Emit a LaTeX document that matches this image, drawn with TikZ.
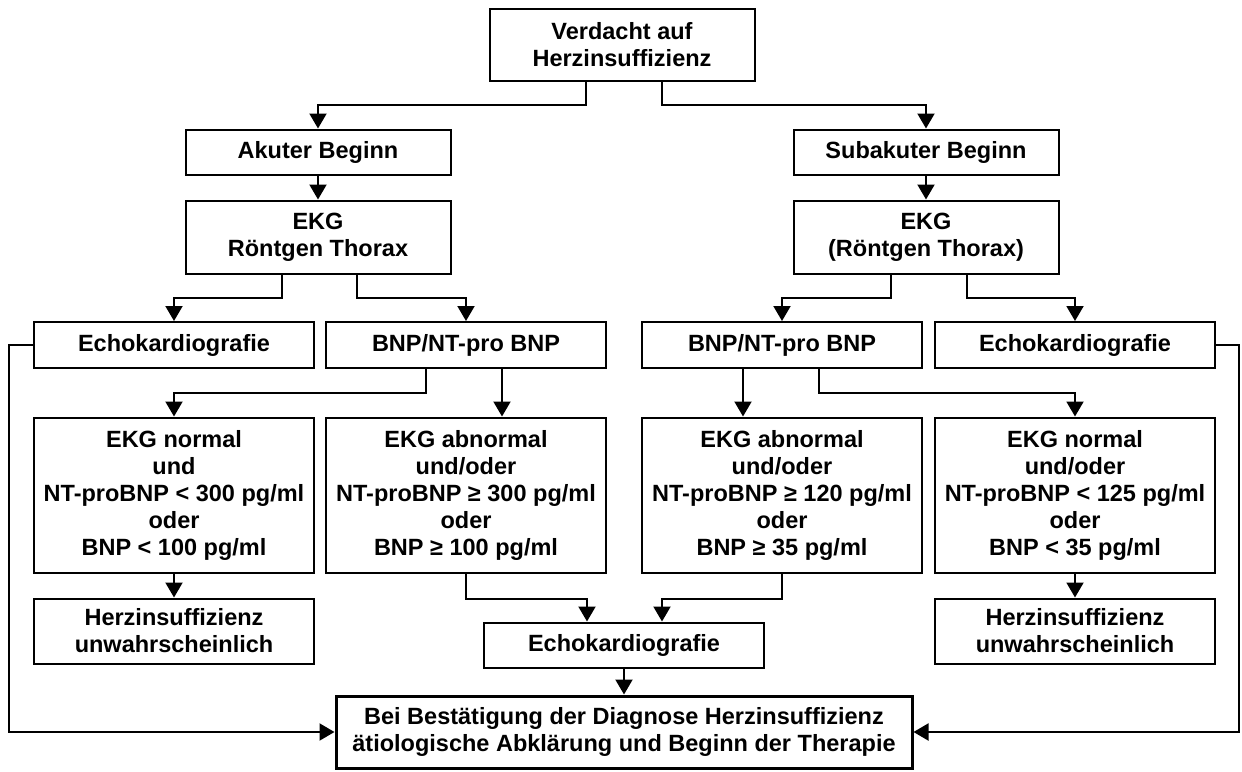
\documentclass[tikz,border=0pt]{standalone}
\usepackage{fontspec}
\setmainfont{Liberation Sans}
\usetikzlibrary{arrows.meta, positioning}

\tikzset{
  box/.style={draw, line width=2pt, align=center, inner xsep=2pt, inner ysep=0pt,
              minimum width=280pt, font=\fontsize{23.5}{27}\selectfont\bfseries},
  arr/.style={-{Triangle[width=17pt,length=15pt]}, line width=2pt},
}

\begin{document}
\begin{tikzpicture}[x=1pt, y=1pt]
\useasboundingbox (0,0) rectangle (1242,-771);

% --- Top ---
\node[box, minimum width=265pt, minimum height=72pt] (verdacht) at (622,-45)
      {Verdacht auf\\Herzinsuffizienz};

% --- Onset ---
\node[box, minimum width=265pt, minimum height=45pt] (akut) at (318,-152) {Akuter Beginn};
\node[box, minimum width=265pt, minimum height=45pt] (subakut) at (926,-152) {Subakuter Beginn};

\node[box, minimum width=265pt, minimum height=73pt] (ekgA) at (318,-237) {EKG\\Röntgen Thorax};
\node[box, minimum width=265pt, minimum height=73pt] (ekgS) at (926,-237) {EKG\\(Röntgen Thorax)};

% --- Second row ---
\node[box, minimum height=46pt] (echoA) at (174,-345) {Echokardiografie};
\node[box, minimum height=46pt] (bnpA) at (466,-345) {BNP/NT-pro BNP};
\node[box, minimum height=46pt] (bnpS) at (782,-345) {BNP/NT-pro BNP};
\node[box, minimum height=46pt] (echoS) at (1075,-345) {Echokardiografie};

% --- Lab results ---
\node[box, minimum height=155pt] (normA) at (174,-495)
      {EKG normal\\und\\NT-proBNP < 300 pg/ml\\oder\\BNP < 100 pg/ml};
\node[box, minimum height=155pt] (abnA) at (466,-495)
      {EKG abnormal\\und/oder\\NT-proBNP ≥ 300 pg/ml\\oder\\BNP ≥ 100 pg/ml};
\node[box, minimum height=155pt] (abnS) at (782,-495)
      {EKG abnormal\\und/oder\\NT-proBNP ≥ 120 pg/ml\\oder\\BNP ≥ 35 pg/ml};
\node[box, minimum height=155pt] (normS) at (1075,-495)
      {EKG normal\\und/oder\\NT-proBNP < 125 pg/ml\\oder\\BNP < 35 pg/ml};

\node[box, minimum height=65pt] (unwA) at (174,-631) {Herzinsuffizienz\\unwahrscheinlich};
\node[box, minimum height=65pt] (unwS) at (1075,-631) {Herzinsuffizienz\\unwahrscheinlich};

\node[box, minimum height=45pt] (echoM) at (624,-645) {Echokardiografie};

% --- Bottom ---
\node[box, line width=3pt, minimum width=576pt, minimum height=72pt] (final) at (624,-732)
      {Bei Bestätigung der Diagnose Herzinsuffizienz\\ätiologische Abklärung und Beginn der Therapie};

% --- Connectors ---
\draw[arr] ([xshift=-36pt]verdacht.south) -- ++(0,-23) -| (akut.north);
\draw[arr] ([xshift=40pt]verdacht.south) -- ++(0,-23) -| (subakut.north);
\draw[arr] (akut) -- (ekgA);
\draw[arr] (subakut) -- (ekgS);

\draw[arr] ([xshift=-36pt]ekgA.south) -- ++(0,-23) -| (echoA.north);
\draw[arr] ([xshift=39pt]ekgA.south) -- ++(0,-23) -| (bnpA.north);
\draw[arr] ([xshift=-35pt]ekgS.south) -- ++(0,-23) -| (bnpS.north);
\draw[arr] ([xshift=41pt]ekgS.south) -- ++(0,-23) -| (echoS.north);

\draw[arr] ([xshift=-40pt]bnpA.south) -- ++(0,-24) -| (normA.north);
\draw[arr] ([xshift=36pt]bnpA.south) -- ([xshift=36pt]abnA.north);
\draw[arr] ([xshift=-39pt]bnpS.south) -- ([xshift=-39pt]abnS.north);
\draw[arr] ([xshift=37pt]bnpS.south) -- ++(0,-24) -| (normS.north);

\draw[arr] (normA) -- (unwA);
\draw[arr] (normS) -- (unwS);
\draw[arr] (abnA.south) -- ++(0,-25) -| ([xshift=-37pt]echoM.north);
\draw[arr] (abnS.south) -- ++(0,-25) -| ([xshift=38pt]echoM.north);
\draw[arr] (echoM) -- (final);

\draw[arr] (echoA.west) -- ++(-24,0) |- (final.west);
\draw[arr] (echoS.east) -- ++(23,0) |- (final.east);

\end{tikzpicture}
\end{document}
